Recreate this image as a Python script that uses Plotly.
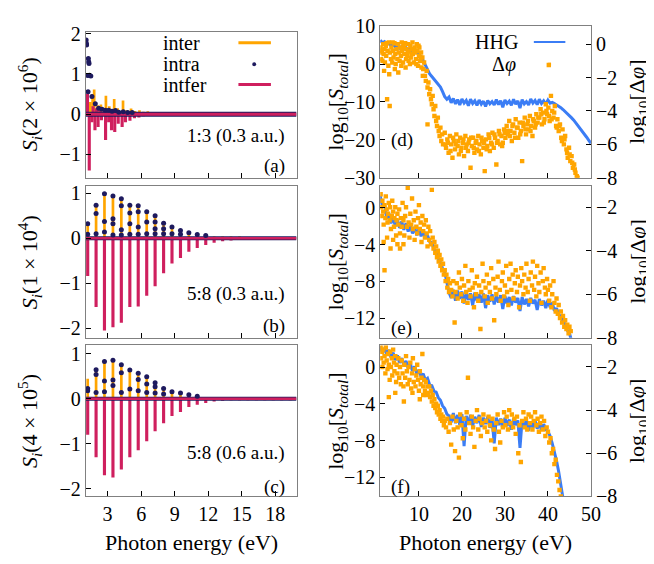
import plotly.graph_objects as go

# ---------------- data ----------------
# harmonic positions (eV) for panels (b) and (c)
harm_x = [1.22, 1.97, 2.72, 3.48, 4.23, 4.99, 5.74, 6.50, 7.25, 8.01, 8.76, 9.52, 10.27,
          11.02, 11.78, 12.53, 13.29, 14.04, 14.80, 15.55, 16.31, 17.06, 17.82, 18.57, 19.33]

# panel (a)  1:3 (0.3 a.u.)
a_inter_x = [1.2, 1.45, 1.66, 1.8, 2.1, 2.4, 2.85, 3.15, 3.59, 3.9, 4.38, 4.7, 5.1, 5.45, 5.85, 6.2, 6.6, 7.0, 7.4]
a_inter_y = [0.45, 0.3, 0.5, 0.61, 0.22, 0.24, 0.46, 0.2, 0.38, 0.15, 0.34, 0.1, 0.14, 0.08, 0.1, 0.06, 0.07, 0.04, 0.04]
a_intfer_x = [1.1, 1.2, 1.36, 1.6, 1.87, 2.15, 2.45, 2.82, 3.1, 3.35, 3.64, 3.95, 4.3, 4.6, 5.0, 5.4,
              5.8, 6.2, 6.6, 7.0, 1.7, 2.0, 2.3, 2.7, 3.3, 3.8, 4.2]
a_intfer_y = [0.45, 0.5, -1.4, -0.2, -0.4, -0.32, -0.15, -0.64, -0.2, -0.4, -0.44, -0.24, -0.32, -0.2,
              -0.16, -0.1, -0.08, -0.05, -0.04, -0.03, 0.2, 0.15, 0.12, 0.15, 0.1, 0.08, 0.06]
a_intra_x = [1.08, 1.1, 1.12, 1.28, 1.31, 1.34, 1.22, 1.38, 1.5, 1.25, 1.6, 1.9, 2.2, 2.5, 2.8, 3.1,
             3.4, 3.7, 4.0, 4.4, 4.8, 5.2]
a_intra_y = [1.84, 1.76, 1.72, 1.38, 1.3, 1.26, 0.96, 0.97, 0.95, 0.56, 0.44, 0.26, 0.15, 0.12, 0.1,
             0.1, 0.07, 0.09, 0.05, 0.06, 0.04, 0.04]

# panel (b)  5:8 (0.3 a.u.)
b_inter_y = [0.33, 0.74, 1.0, 0.95, 0.9, 0.74, 0.73, 0.6, 0.5, 0.34, 0.26, 0.17, 0.12, 0.08, 0.06,
             0.04, 0.03, 0.02, 0.02, 0.01, 0.01, 0.01, 0.01, 0.01, 0.01]
b_intfer_y = [-0.84, -1.53, -2.05, -1.98, -1.88, -1.53, -1.52, -1.28, -1.07, -0.78, -0.56, -0.44,
              -0.3, -0.22, -0.15, -0.1, -0.07, -0.05, -0.04, -0.03, -0.03, -0.02, -0.02, -0.02, -0.02]
b_intra_x = [1.22, 1.22, 1.97, 1.97, 1.97, 2.72, 2.72, 2.72, 3.48, 3.48, 3.48, 3.48, 4.23, 4.23,
             4.23, 4.23, 4.99, 4.99, 4.99, 4.99, 5.74, 5.74, 5.74, 5.74, 6.50, 6.50, 6.50, 7.25,
             7.25, 7.25, 7.25, 8.01, 8.01, 8.01, 8.76, 8.76, 9.52, 9.52, 10.27, 11.02, 11.78]
b_intra_y = [0.32, 0.09, 0.73, 0.55, 0.1, 0.99, 0.37, 0.14, 0.94, 0.43, 0.32, 0.07, 0.88, 0.72,
             0.19, 0.07, 0.73, 0.56, 0.32, 0.09, 0.72, 0.59, 0.25, 0.09, 0.59, 0.36, 0.1, 0.5,
             0.36, 0.21, 0.1, 0.33, 0.21, 0.1, 0.25, 0.1, 0.17, 0.09, 0.12, 0.08, 0.06]

# panel (c)  5:8 (0.6 a.u.)
c_inter_y = [0.45, 0.65, 0.83, 0.86, 0.78, 0.65, 0.58, 0.51, 0.36, 0.25, 0.18, 0.14, 0.07, 0.05,
             0.03, 0.02, 0.01, 0.01, 0.01, 0.01, 0.01, 0.01, 0.01, 0.01, 0.01]
c_intfer_y = [-0.8, -1.3, -1.7, -1.75, -1.57, -1.3, -1.14, -0.94, -0.72, -0.54, -0.38, -0.29,
              -0.18, -0.13, -0.09, -0.06, -0.04, -0.03, -0.02, -0.02, -0.02, -0.02, -0.02, -0.02, -0.02]
c_intra_x = [1.22, 1.22, 1.97, 1.97, 1.97, 2.72, 2.72, 2.72, 3.48, 3.48, 3.48, 4.23, 4.23, 4.23,
             4.99, 4.99, 5.74, 5.74, 5.74, 6.50, 6.50, 6.50, 7.25, 7.25, 7.25, 8.01, 8.01, 8.76,
             9.52, 10.27, 11.02]
c_intra_y = [0.23, 0.18, 0.65, 0.54, 0.14, 0.83, 0.4, 0.16, 0.86, 0.42, 0.3, 0.76, 0.58, 0.14,
             0.64, 0.22, 0.57, 0.43, 0.18, 0.49, 0.33, 0.14, 0.36, 0.27, 0.13, 0.23, 0.11, 0.16,
             0.13, 0.09, 0.06]

# zero level of the spectra (baseline)
floor_x = [1.05, 19.9]
floor_y = [0.0, 0.0]

# HHG spectra (log10 S_total), common energy grid
hhg_x = [1.0, 1.5, 2.0, 2.5, 3.0, 3.5, 4.0, 4.5, 5.0, 5.5, 6.0, 6.5, 7.0, 7.5, 8.0, 8.5, 9.0, 9.5,
         10.0, 10.5, 11.0, 11.5, 12.0, 12.5, 13.0, 13.5, 14.0, 14.5, 15.0, 15.5, 16.0, 16.5, 17.0,
         17.5, 18.0, 18.5, 19.0, 19.5, 20.0, 20.5, 21.0, 21.5, 22.0, 22.5, 23.0, 23.5, 24.0, 24.5,
         25.0, 25.5, 26.0, 26.5, 27.0, 27.5, 28.0, 28.5, 29.0, 29.5, 30.0, 30.5, 31.0, 31.5, 32.0,
         32.5, 33.0, 33.5, 34.0, 34.5, 35.0, 35.5, 36.0, 36.5, 37.0, 37.5, 38.0, 38.5, 39.0, 39.5,
         40.0, 40.5, 41.0, 41.5, 42.0, 42.5, 43.0, 43.5, 44.0, 44.5, 45.0, 45.5, 46.0, 46.5, 47.0,
         47.5, 48.0, 48.5, 49.0, 49.5, 50.0]
d_hhg_y = [6.3, 5.6, 5.9, 5.2, 5.5, 4.8, 5.2, 4.5, 4.9, 4.2, 4.6, 3.9, 4.3, 3.7, 4.0, 3.4, 3.7, 3.0,
           2.8, 1.9, 0.9, -0.3, -1.6, -2.6, -3.3, -4.0, -4.6, -5.3, -6.1, -7.3, -8.6, -9.3, -8.7,
           -10.2, -9.1, -10.5, -9.4, -10.8,
           -9.2, -10.3, -9.6, -11.0, -9.3, -10.4, -9.7, -10.9, -9.5, -10.6, -9.8, -11.2, -9.6,
           -10.5, -9.9, -10.8, -9.4, -10.7, -9.7, -11.4,
           -9.5, -10.4, -9.8, -10.9, -9.3, -10.6, -9.7, -11.6, -9.4, -10.5, -9.9, -10.8, -9.2,
           -10.3, -9.6, -10.7, -9.3, -10.4, -9.7, -10.6,
           -9.5, -10.3, -10.1, -10.4, -10.7, -11.1, -11.5, -12.0, -12.5, -13.0, -13.6, -14.2,
           -14.8, -15.5, -16.2, -16.9, -17.7, -18.5, -19.3, -20.1, -20.9]
e_hhg_y = [1.3, 0.1, 0.4, -1.2, -0.6, -1.7, -1.0, -2.0, -1.3, -2.2, -1.5, -2.4, -1.7, -2.6, -1.9,
           -2.8, -2.1, -3.0,
           -2.3, -3.1, -2.6, -3.3, -3.0, -3.7, -3.8, -4.5, -4.8, -5.5, -5.9, -6.6, -7.0, -8.3,
           -9.2, -9.8, -8.9, -10.1, -9.0, -9.9,
           -9.1, -10.4, -9.2, -10.0, -9.3, -10.6, -9.2, -10.1, -9.4, -10.3, -9.3, -10.9, -9.5,
           -10.2, -9.4, -10.5, -9.6, -10.3, -9.5, -11.0,
           -9.6, -10.4, -9.7, -10.6, -9.6, -10.3, -9.8, -11.2, -9.7, -10.5, -9.9, -10.7, -9.8,
           -10.4, -10.0, -11.1, -9.9, -10.6, -10.1, -10.9,
           -10.0, -10.8, -10.3, -11.2, -10.9, -11.6, -11.8, -12.4, -12.6, -13.3, -13.6, -14.5]
f_hhg_y = [2.3, 1.6, 2.1, 1.4, 1.9, 1.1, 1.6, 0.8, 1.3, 0.5, 1.0, 0.2, 0.7, -0.1, 0.4, -0.4, 0.1, -0.7,
           -0.3, -1.0, -0.7, -1.4, -1.2, -1.9, -2.0, -2.6, -2.7, -3.3, -3.6, -4.2, -4.5, -5.1,
           -5.3, -6.0, -5.0, -6.1, -5.2, -6.3,
           -5.1, -8.6, -5.3, -6.2, -5.2, -6.4, -5.4, -6.1, -5.2, -6.5, -5.5, -6.2, -5.4, -6.6,
           -5.6, -8.3, -5.5, -6.3, -5.6, -6.7,
           -5.5, -6.4, -5.7, -6.8, -5.6, -6.3, -5.8, -8.8, -5.7, -6.5, -5.8, -6.9, -5.9, -6.6,
           -5.8, -6.7, -6.0, -6.9, -6.2, -6.8,
           -7.0, -7.5, -8.3, -9.2, -10.2, -11.4, -12.8, -14.3]

# log10(delta phi) clouds
d_phi_x = [1.1, 1.2, 1.4, 1.5, 1.7, 1.8, 2.0, 2.1, 2.3, 2.4, 2.6, 2.7, 2.9, 3.0, 3.2, 3.3, 3.5, 3.6,
           3.8, 4.0, 4.1, 4.3, 4.5, 4.6, 4.8, 5.0, 5.1, 5.3, 5.5, 5.6, 5.8, 6.0, 6.1, 6.3, 6.5, 6.6,
           6.8, 7.0, 7.1, 7.3, 7.5, 7.6, 7.8, 8.0, 8.1, 8.3, 8.5, 8.6, 8.8, 9.0, 9.1, 9.3, 9.5, 9.6,
           9.8, 10.0, 10.1, 10.3, 10.5, 10.6, 10.8,
           1.3, 1.9, 2.5, 3.1, 3.9, 4.4, 5.2, 5.9, 6.4, 6.9, 7.4, 7.9, 8.4, 8.9, 9.4, 9.9, 10.4, 10.9,
           11.0, 11.2, 11.4, 11.6, 11.8, 12.0, 12.2, 12.4, 12.6, 12.8, 13.0, 13.2, 13.4, 13.6, 13.8,
           14.0, 14.2, 14.4, 14.6, 14.8, 15.0, 15.2, 15.4, 15.6, 12.0,
           16.0, 16.3, 16.6, 16.9, 17.2, 17.5, 17.8, 18.1, 18.4, 18.7, 19.0, 19.3, 19.6, 19.9, 20.2,
           20.5, 20.8, 21.1, 21.4, 21.7, 22.0,
           22.3, 22.6, 22.9, 23.2, 23.5, 23.8, 24.1, 24.4, 24.7, 25.0, 25.3, 25.6, 25.9, 26.2, 26.5,
           26.8, 27.1, 27.4, 27.7, 28.0, 28.3, 28.6, 28.9, 29.2, 29.5, 29.8,
           30.1, 30.4, 30.7, 31.0, 31.3, 31.6, 31.9, 32.2, 32.5, 32.8, 33.1, 33.4, 33.7, 34.0, 34.3,
           34.6, 34.9, 35.2, 35.5, 35.8, 36.1, 36.4, 36.7, 37.0, 37.3, 37.6,
           38.0, 38.3, 38.6, 38.9, 39.2, 39.5, 39.8, 40.1, 40.2, 40.4, 40.7, 41.0, 41.3, 41.6, 41.9,
           42.2, 42.5, 42.8, 43.1, 43.4, 43.7, 44.0, 44.3, 44.6, 44.9, 45.2, 45.5, 45.8, 46.1, 46.4,
           46.7, 46.9,
           16.15, 16.75, 17.35, 17.95, 18.55, 19.15, 19.75, 20.35, 20.95, 21.55, 22.15, 22.75, 23.35,
           23.95, 24.55, 25.15, 25.75, 26.35, 26.95, 27.55, 28.15, 28.75, 29.35, 29.95, 30.55, 31.15,
           31.75, 32.35, 32.95, 33.55, 34.15, 34.75, 35.35, 35.95, 36.55, 37.15, 37.75, 38.45, 39.05,
           39.65, 40.25, 40.85, 41.45, 42.05, 42.65, 43.25, 43.85, 44.45, 45.05, 45.65, 46.25]
d_phi_y = [-0.2, -0.9, -0.4, -1.0, 0.0, -0.6, -0.3, -1.1, -0.1, -0.7, -3.3, -0.4, -1.3, 0.1, -3.7,
           -0.5, -0.9, -0.2, -1.1, -0.4, -0.8, 0.05, -0.6, -1.2, -0.3, -0.9, 0.0, -0.5, -1.0, -0.2,
           -0.7, 0.1, -0.4, -1.1, -0.2, -0.6, 0.05, -0.9, -0.3, -0.7, 0.0, -1.0, -0.4, -0.1, -0.8,
           -0.3, 0.1, -0.6, -1.1, -0.2, -0.5, -0.9, 0.0, -0.4, -1.3, -0.7, -0.2, -1.0, -0.5, -1.4, -0.8,
           -0.5, -1.6, 0.05, -1.8, 0.1, -1.5, -1.7, -1.3, 0.0, -1.4, -0.5, -1.2, -0.6, -0.4, -1.2,
           -0.1, -0.8, -1.9,
           -1.5, -1.1, -1.9, -2.2, -1.6, -2.6, -2.3, -3.0, -2.7, -3.3, -3.6, -3.1, -3.9, -4.3, -3.7,
           -4.6, -4.9, -4.4, -5.2, -5.5, -5.0, -5.8, -5.4, -6.0, -4.8,
           -5.3, -6.2, -5.7, -6.5, -5.5, -6.0, -6.8, -5.8, -6.3, -5.4, -6.1, -6.6, -5.6, -6.2, -5.9,
           -6.7, -5.5, -6.0, -6.4, -5.7, -7.4,
           -6.1, -5.6, -6.5, -5.9, -6.3, -5.5, -6.0, -6.6, -5.8, -6.2, -7.6, -5.7, -6.1, -5.4, -6.4,
           -5.9, -5.3, -6.2, -5.6, -7.2, -5.8, -5.2, -6.0, -5.5, -5.9, -5.1,
           -5.6, -4.9, -5.4, -4.6, -5.2, -5.8, -4.8, -5.3, -4.5, -5.0, -5.6, -4.7, -5.2, -7.0, -4.9,
           -4.4, -5.4, -4.8, -5.1, -4.3, -4.9, -5.5, -4.6, -5.0, -4.2, -4.7,
           -4.4, -3.9, -4.8, -4.1, -4.5, -3.6, -4.2, -3.8, -1.25, -4.6, -3.1, -4.0, -4.4, -3.7, -4.9,
           -4.5, -5.2, -4.8, -5.6, -5.1, -6.0, -5.5, -6.3, -6.8, -6.2, -7.0, -6.7, -7.4, -7.2, -7.7,
           -7.9, -8.0,
           -6.0, -5.9, -6.4, -5.6, -6.0, -5.8, -6.4, -5.7, -6.2, -5.9, -5.6, -6.2, -5.8, -6.4, -5.6,
           -5.9, -6.3, -5.6, -6.0, -5.4, -5.9, -5.4, -6.1, -5.3, -5.2, -5.5, -4.9, -5.6, -5.0, -5.4,
           -4.7, -5.1, -4.6, -5.2, -4.5, -4.8, -4.4, -4.2, -4.7, -4.0, -4.3, -4.5, -4.1, -5.0, -4.9,
           -5.8, -5.7, -6.5, -6.6, -7.1, -7.5]

e_phi_x = [1.1, 1.2, 1.4, 1.5, 1.7, 1.8, 2.0, 2.2, 2.3, 2.5, 2.7, 2.8, 3.0, 3.2, 3.3, 3.5, 3.7, 3.8,
           4.0, 4.2, 4.3, 4.5, 4.7, 4.8, 5.0,
           5.2, 5.4, 5.6, 5.8, 6.0, 6.2, 6.4, 6.6, 6.8, 7.0, 7.2, 7.4, 7.6, 7.8, 8.0, 8.2, 8.4, 8.6,
           8.8, 9.0, 9.2, 9.4, 9.6, 9.8, 10.0, 10.2, 10.4, 10.6, 10.8, 11.0, 11.2, 11.4, 11.6, 11.8,
           12.0, 12.2, 12.4, 12.6, 12.8, 13.0,
           2.0, 1.8, 2.6, 3.4, 4.0, 5.0, 5.6, 6.4,
           13.2, 13.4, 13.6, 13.8, 14.0, 14.2, 14.4, 14.6, 14.8, 15.0, 15.2, 15.4, 15.6, 15.8, 16.0,
           16.2, 16.4, 16.6, 16.8, 17.0, 17.2,
           17.5, 17.8, 18.0, 18.3, 18.5, 18.8, 19.0, 19.3, 19.5, 19.8, 20.0, 20.3, 20.5, 20.8, 21.0,
           21.3, 21.5, 21.8, 22.0, 22.3, 22.5, 22.8, 23.0, 23.3, 23.5, 23.8, 24.0, 24.3, 24.5, 24.8,
           25.0, 25.3, 25.5, 25.8, 26.0, 26.3, 26.5, 26.8, 27.0, 27.3, 27.5, 27.8, 28.0, 28.3, 28.5,
           28.8, 29.0, 29.3, 29.5, 29.8, 30.0, 30.3, 30.5, 30.8,
           31.0, 31.3, 31.5, 31.8, 32.0, 32.3, 32.5, 32.8, 33.0, 33.3, 33.5, 33.8, 34.0, 34.3, 34.5,
           34.8, 35.0, 35.3, 35.5, 35.8, 36.0, 36.3, 36.5, 36.8, 37.0, 37.3, 37.5, 37.8, 38.0, 38.3,
           38.5, 38.8, 39.0, 39.3, 39.5, 39.8,
           40.0, 40.3, 40.5, 40.8, 41.0, 41.3, 41.5, 41.8, 42.0, 42.3, 42.5, 42.8, 43.0, 43.3, 43.5,
           43.8, 44.0, 44.3, 44.5, 44.8, 45.0, 45.3]
e_phi_y = [-1.4, -2.0, -2.4, -1.7, -2.2, -2.8, -1.9, -2.5, -1.5, -2.1, -2.7, -2.3, -1.8, -2.6, -2.0,
           -3.0, -2.4, -1.7, -2.2, -2.9, -2.5, -2.0, -3.3, -2.6, -2.3,
           -2.8, -2.1, -3.2, -2.5, -2.9, -1.8, -2.6, -3.3, -2.4, -2.0, -2.9, -1.1, -2.7, -3.4, -2.3,
           -2.8, -1.6, -3.0, -2.6, -3.5, -2.2, -2.9, -3.2, -2.5, -1.9, -3.0, -2.7, -3.6, -2.4, -3.1,
           -2.8, -3.4, -2.6, -3.2, -3.8, -2.9, -3.5, -3.1, -3.7, -1.2,
           -4.9, -3.6, -3.4, -3.9, -3.5, -3.7, -3.9, -3.7,
           -3.4, -3.9, -3.6, -4.1, -3.8, -4.3, -4.0, -4.5, -4.2, -4.7, -4.4, -4.9, -4.6, -5.1, -4.9,
           -5.4, -5.1, -5.7, -5.3, -5.9, -5.5,
           -5.8, -6.1, -5.4, -7.3, -5.9, -5.5, -6.2, -5.0, -5.7, -6.0, -5.3, -6.3, -5.6, -4.7, -5.9,
           -6.4, -5.4, -5.8, -6.1, -4.9, -5.7, -6.6, -5.5, -6.0, -5.2, -6.3, -5.6, -7.6, -5.9, -4.6,
           -5.4, -6.1, -5.7, -5.1, -6.4, -5.5, -5.9, -4.8, -6.2, -5.3, -7.2, -5.7, -6.0, -5.2, -4.5,
           -5.8, -6.3, -5.4, -5.0, -6.1, -5.6, -4.7, -5.9, -6.5,
           -5.3, -4.6, -5.8, -5.1, -6.2, -5.5, -4.9, -5.9, -5.2, -6.6, -5.6, -4.8, -5.4, -6.0, -5.1,
           -5.7, -4.6, -5.9, -5.3, -6.3, -5.0, -5.6, -4.5, -5.8, -5.2, -6.1, -4.7, -5.5, -5.9, -5.0,
           -6.4, -5.4, -4.8, -5.7, -6.0, -5.3,
           -5.8, -6.3, -5.6, -6.6, -6.0, -5.4, -6.4, -6.8, -6.2, -6.9, -6.5, -7.1, -6.8, -7.3, -7.0,
           -7.5, -7.2, -7.6, -7.4, -7.8, -7.5, -7.7]

f_phi_x = [1.1, 1.2, 1.4, 1.5, 1.7, 1.8, 2.0, 2.2, 2.3, 2.5, 2.7, 2.8, 3.0, 3.2, 3.3, 3.5, 3.7, 3.8,
           4.0, 4.2, 4.3, 4.5, 4.7, 4.8, 5.0,
           3.0, 4.5, 6.5, 8.5, 10.2, 11.0,
           5.2, 5.4, 5.6, 5.8, 6.0, 6.2, 6.4, 6.6, 6.8, 7.0, 7.2, 7.4, 7.6, 7.8, 8.0, 8.2, 8.4, 8.6,
           8.8, 9.0, 9.2, 9.4, 9.6, 9.8, 10.0, 10.2, 10.4, 10.6, 10.8, 11.0, 11.2, 11.4, 11.6, 11.8, 12.0,
           12.2, 12.4, 12.6, 12.8, 13.0, 13.2, 13.4, 13.6, 13.8, 14.0, 14.2, 14.4, 14.6, 14.8, 15.0,
           15.2, 15.4, 15.6, 15.8, 16.0,
           16.3, 16.6, 16.9, 17.2, 17.5, 17.8, 18.1, 18.4, 18.7, 19.0, 19.3, 19.6, 19.9, 20.2, 20.5,
           20.8, 21.1, 21.4, 21.7, 22.0, 22.3, 22.6, 22.9, 23.2, 23.5, 23.8, 24.1, 24.4, 24.7, 25.0,
           25.3, 25.6, 25.9, 26.2, 26.5, 26.8, 27.1, 27.4, 27.7, 28.0, 28.3, 28.6, 28.9, 29.2, 29.5,
           29.8, 30.1, 30.4, 30.7, 31.0, 31.3, 31.6, 31.9, 32.2, 32.5, 32.8, 33.1, 33.4, 33.7, 34.0,
           34.3, 34.6, 34.9, 35.2, 35.5, 35.8, 36.1, 36.4, 36.7, 37.0, 37.3, 37.6, 37.9, 38.2, 38.5,
           38.8, 39.1, 39.4, 39.7,
           40.0, 40.3, 40.6, 40.9, 41.2, 41.5, 41.8, 42.1, 42.4, 42.7, 43.0]
f_phi_y = [-1.1, -1.6, -1.3, -2.0, -1.2, -1.8, -1.5, -2.3, -1.1, -1.7, -2.1, -1.4, -1.9, -2.6, -1.3,
           -2.0, -1.6, -2.4, -1.2, -1.8, -2.2, -1.5, -2.7, -1.9, -2.3,
           -3.4, -3.2, -3.6, -3.2, -3.5, -3.3,
           -1.6, -2.5, -2.0, -2.8, -1.7, -2.3, -2.9, -1.9, -2.5, -1.5, -2.2, -2.8, -2.0, -2.6, -1.8,
           -3.0, -2.3, -1.6, -2.7, -2.1, -2.9, -2.4, -1.9, -2.6, -3.1, -2.2, -2.8, -2.5, -1.4, -2.9,
           -2.6, -3.1, -2.7, -3.3, -2.9,
           -3.2, -2.9, -3.4, -3.1, -3.6, -3.3, -3.8, -3.5, -3.9, -3.7, -4.1, -3.8, -4.2, -4.0, -4.4,
           -4.2, -4.5, -4.3, -4.7, -4.5,
           -4.8, -4.4, -5.0, -4.6, -5.6, -4.3, -4.9, -5.9, -4.5, -4.8, -6.2, -4.2, -4.7, -5.3, -4.4,
           -4.9, -4.1, -2.5, -4.6, -5.1, -4.3, -4.8, -5.7, -4.5, -4.0, -4.9, -4.4, -5.2, -4.6, -4.2,
           -4.8, -4.5, -5.0, -4.3, -4.7, -5.4, -4.4, -4.9, -5.8, -4.6, -4.2, -5.0, -5.5, -4.5, -4.8,
           -4.1, -4.7, -4.3, -4.9, -4.0, -4.6, -4.2, -4.8, -4.4, -5.1, -4.3, -6.0, -4.7, -6.4, -4.5,
           -4.1, -4.8, -4.4, -4.9, -4.2, -4.6, -4.3, -4.9, -4.5, -4.1, -4.7, -4.4, -5.0, -4.6, -4.3,
           -4.9, -4.5, -5.2, -4.8,
           -5.0, -5.5, -5.3, -6.0, -5.8, -6.5, -6.3, -7.0, -7.3, -7.7, -8.0]

# tick values
left_xticks = [3, 6, 9, 12, 15, 18]
right_xticks = [10, 20, 30, 40, 50]

# ---------------- styling ----------------
ORANGE = "#FFA500"
NAVY = "#1E1A5E"
CRIMSON = "#CF1F5E"
BLUE = "#3B7DF5"
FONT = "Liberation Serif, Times New Roman, serif"
W, H = 654, 564


def pxx(x):
    return x / W


def pxy(y):
    return 1 - y / H


fig = go.Figure()

# left panels
left_panels = [
    ("x", "y", a_inter_x, a_inter_y, a_intfer_x, a_intfer_y, a_intra_x, a_intra_y, 5, 3),
    ("x2", "y2", harm_x, b_inter_y, harm_x, b_intfer_y, b_intra_x, b_intra_y, 4, 2.5),
    ("x3", "y3", harm_x, c_inter_y, harm_x, c_intfer_y, c_intra_x, c_intra_y, 4, 2.5),
]
for xa, ya, ix, iy, fx, fy, dx, dy, w1, w2 in left_panels:
    fig.add_trace(go.Bar(x=ix, y=iy, width=0.24, marker=dict(color=ORANGE, line=dict(width=0), opacity=1),
                         xaxis=xa, yaxis=ya, showlegend=False))
    fig.add_trace(go.Bar(x=fx, y=fy, width=0.28, marker=dict(color=CRIMSON, line=dict(width=0), opacity=1),
                         xaxis=xa, yaxis=ya, showlegend=False))
    fig.add_trace(go.Scatter(x=floor_x, y=floor_y, mode="lines", line=dict(color=NAVY, width=w1),
                             xaxis=xa, yaxis=ya, showlegend=False))
    fig.add_trace(go.Scatter(x=floor_x, y=floor_y, mode="lines", line=dict(color=CRIMSON, width=w2),
                             xaxis=xa, yaxis=ya, showlegend=False))
    fig.add_trace(go.Scatter(x=dx, y=dy, mode="markers", marker=dict(color=NAVY, size=5),
                             xaxis=xa, yaxis=ya, showlegend=False))

# right panels
right_panels = [
    ("x4", "y4", "y7", d_hhg_y, d_phi_x, d_phi_y),
    ("x5", "y5", "y8", e_hhg_y, e_phi_x, e_phi_y),
    ("x6", "y6", "y9", f_hhg_y, f_phi_x, f_phi_y),
]
for xa, ya, ya2, hy, px_, py_ in right_panels:
    fig.add_trace(go.Scatter(x=hhg_x[:len(hy)], y=hy, mode="lines", line=dict(color=BLUE, width=3),
                             xaxis=xa, yaxis=ya, showlegend=False))
    fig.add_trace(go.Scatter(x=px_, y=py_, mode="markers",
                             marker=dict(color=ORANGE, size=4.4, symbol="square", line=dict(width=0)),
                             xaxis=xa, yaxis=ya2, showlegend=False))

# ---------------- axes ----------------
tickfont = dict(family=FONT, size=20, color="black")
LX = (79, 293)
RX = (378, 592)
rows_left = [(15, 166), (175, 332), (340, 497)]
rows_right = [(8, 166), (174, 332), (340, 497)]
left_yranges = [[-1.58, 2.03], [-2.21, 1.15], [-2.17, 1.19]]
left_yticks = [[-1, 0, 1, 2], [-2, -1, 0, 1], [-2, -1, 0, 1]]
right_yranges = [[-30, 10.1], [-14.1, 2.4], [-14.1, 2.4]]
right_yticks = [[-30, -20, -10, 0, 10], [-12, -8, -4, 0], [-12, -8, -4, 0]]
phi_ranges = [[-8, 1.1], [-8, -1.0], [-8, -1.0]]
phi_ticks = [[-8, -6, -4, -2, 0], [-8, -6, -4, -2], [-8, -6, -4, -2]]

common = dict(showgrid=False, zeroline=False, showline=True, linecolor="#808080", linewidth=1,
              ticks="inside", ticklen=5, tickwidth=1, tickcolor="black", tickfont=tickfont)

layout = {}
for i in range(3):
    n = i + 1
    xk = "xaxis" if n == 1 else f"xaxis{n}"
    yk = "yaxis" if n == 1 else f"yaxis{n}"
    top, bot = rows_left[i]
    layout[xk] = dict(common, domain=[pxx(LX[0]), pxx(LX[1])], range=[1.05, 19.9], anchor=f"y{'' if n == 1 else n}",
                      tickvals=left_xticks, showticklabels=(i == 2), mirror=True)
    layout[yk] = dict(common, domain=[pxy(bot), pxy(top)], range=left_yranges[i], anchor=f"x{'' if n == 1 else n}",
                      tickvals=left_yticks[i], mirror=True)
for i in range(3):
    n = i + 4
    top, bot = rows_right[i]
    layout[f"xaxis{n}"] = dict(common, domain=[pxx(RX[0]), pxx(RX[1])], range=[1, 50], anchor=f"y{n}",
                               tickvals=right_xticks, showticklabels=(i == 2), mirror=True)
    layout[f"yaxis{n}"] = dict(common, domain=[pxy(bot), pxy(top)], range=right_yranges[i], anchor=f"x{n}",
                               tickvals=right_yticks[i], mirror=True)
    layout[f"yaxis{n + 3}"] = dict(common, range=phi_ranges[i], anchor=f"x{n}", overlaying=f"y{n}",
                                   side="right", tickvals=phi_ticks[i])

fig.update_layout(**layout)
fig.update_layout(width=W, height=H, margin=dict(l=0, r=0, t=0, b=0), barmode="overlay",
                  plot_bgcolor="white", paper_bgcolor="white", showlegend=False,
                  font=dict(family=FONT, size=20, color="black"))

# ---------------- text ----------------
def ann(text, x, y, size=20, xanchor="center", yanchor="middle", angle=0):
    fig.add_annotation(text=text, x=pxx(x), y=pxy(y), xref="paper", yref="paper", showarrow=False,
                       xanchor=xanchor, yanchor=yanchor, textangle=angle,
                       font=dict(family=FONT, size=size, color="black"))


# y titles left column
ann("<i>S</i><sub><i>i</i></sub>(2 × 10<sup>6</sup>)", 22, 90, 22, angle=-90)
ann("<i>S</i><sub><i>i</i></sub>(1 × 10<sup>4</sup>)", 22, 254, 22, angle=-90)
ann("<i>S</i><sub><i>i</i></sub>(4 × 10<sup>5</sup>)", 22, 419, 22, angle=-90)
# y titles right column
for top, bot in rows_right:
    ann("log<sub>10</sub>[<i>S</i><sub><i>total</i></sub>]", 334, (top + bot) / 2, 22, angle=-90)
    ann("log<sub>10</sub>[Δ<i>φ</i>]", 640, (top + bot) / 2, 22, angle=-90)
# x titles
ann("Photon energy (eV)", 186, 545, 22)
ann("Photon energy (eV)", 485, 545, 22)

# panel notes
ann("1:3 (0.3 a.u.)", 283, 123, 19, xanchor="right")
ann("5:8 (0.3 a.u.)", 283, 287, 19, xanchor="right")
ann("5:8 (0.6 a.u.)", 283, 452, 19, xanchor="right")
ann("(a)", 283, 154, 19, xanchor="right")
ann("(b)", 283, 320, 19, xanchor="right")
ann("(c)", 283, 487, 19, xanchor="right")
ann("(d)", 387, 127, 19, xanchor="left")
ann("(e)", 387, 322, 19, xanchor="left")
ann("(f)", 387, 487, 19, xanchor="left")

# legends
ann("inter", 155, 26, 20, xanchor="left")
ann("intra", 155, 48, 20, xanchor="left")
ann("intfer", 155, 70, 20, xanchor="left")
ann("HHG", 520, 25, 20, xanchor="right")
ann("Δ<i>φ</i>", 518, 48, 20, xanchor="right")


def seg(x0, x1, y, color, width):
    fig.add_shape(type="line", xref="paper", yref="paper", x0=pxx(x0), x1=pxx(x1), y0=pxy(y), y1=pxy(y),
                  line=dict(color=color, width=width))


seg(234, 267, 25.7, ORANGE, 3)
seg(234, 267, 69, CRIMSON, 3)
fig.add_shape(type="circle", xref="paper", yref="paper", x0=pxx(248), x1=pxx(252), y0=pxy(50), y1=pxy(46),
              fillcolor=NAVY, line=dict(width=0))
seg(534, 566, 25, BLUE, 2)
fig.add_shape(type="rect", xref="paper", yref="paper", x0=pxx(548.5), x1=pxx(551.5), y0=pxy(49.5), y1=pxy(46.5),
              fillcolor=ORANGE, line=dict(width=0))

fig.write_html("out.html")
